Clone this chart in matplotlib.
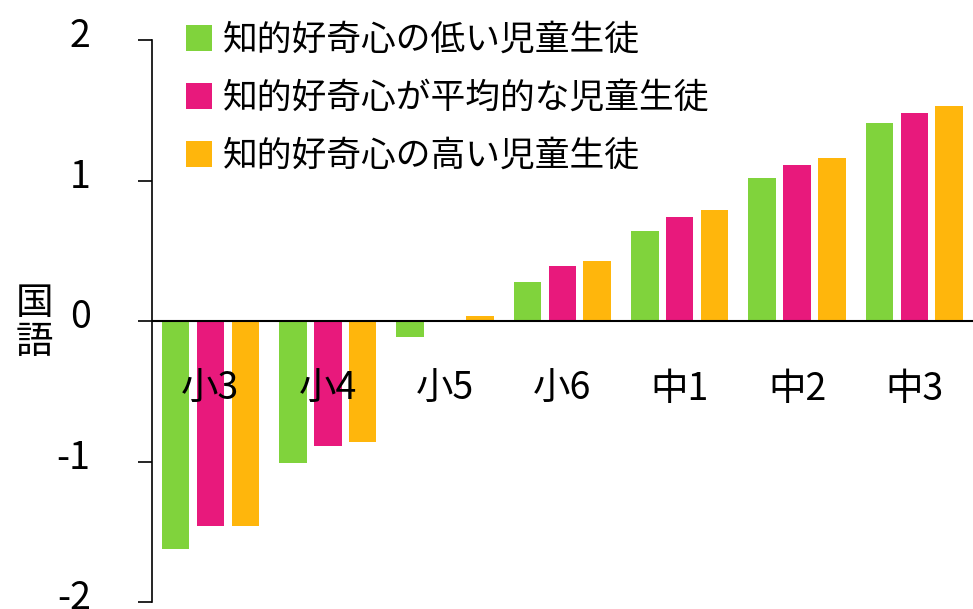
import matplotlib.pyplot as plt
import matplotlib.transforms as mtransforms
import numpy as np

plt.rcParams['font.family'] = ['Noto Sans CJK JP', 'DejaVu Sans']

grades = ['小3', '小4', '小5', '小6', '中1', '中2', '中3']
low = [-1.62, -1.01, -0.11, 0.28, 0.64, 1.02, 1.41]
mid = [-1.46, -0.89, -0.01, 0.39, 0.74, 1.11, 1.48]
high = [-1.46, -0.86, 0.035, 0.43, 0.79, 1.16, 1.53]
series = ['知的好奇心の低い児童生徒', '知的好奇心が平均的な児童生徒', '知的好奇心の高い児童生徒']
colors = ['#80d33c', '#e8197c', '#ffb60c']

fig = plt.figure(figsize=(9.73, 6.09), dpi=100)
ax = fig.add_axes([0.156, 0.0115, 0.844, 0.9225])

x = np.arange(len(grades))
w = 0.235
for i, (vals, lab, c) in enumerate(zip([low, mid, high], series, colors)):
    ax.bar(x + (i - 1) * 0.297, vals, w, color=c, label=lab)

ax.axhline(0, color='black', lw=1.5)
ax.set_xlim(-0.5, 6.5)
ax.set_ylim(-2, 2)
ax.set_yticks([-2, -1, 0, 1, 2])
ax.set_yticklabels(['-2', '-1', '0', '1', '2'], fontsize=27)
ax.tick_params(axis='y', length=10, width=1.2, pad=34)
# labels sit a little above their ticks
shift = mtransforms.ScaledTranslation(0, 8 / 100, fig.dpi_scale_trans)
for t in ax.get_yticklabels():
    t.set_transform(t.get_transform() + shift)
ax.set_xticks([])
for s in ['top', 'right', 'bottom']:
    ax.spines[s].set_visible(False)
ax.spines['left'].set_linewidth(1.2)

for xi, g in zip(x, grades):
    ax.text(xi, -0.49, g, ha='center', va='center', fontsize=27)

fig.text(0.035, 0.47, '国\n語', ha='center', va='center', fontsize=27, linespacing=1.0)

leg = ax.legend(loc='upper left', bbox_to_anchor=(0.025, 1.055), frameon=False,
                fontsize=25, handlelength=0.75, handleheight=0.75, handletextpad=0.3,
                labelspacing=0.66, borderaxespad=0)

fig.savefig('out.png', dpi=100)
